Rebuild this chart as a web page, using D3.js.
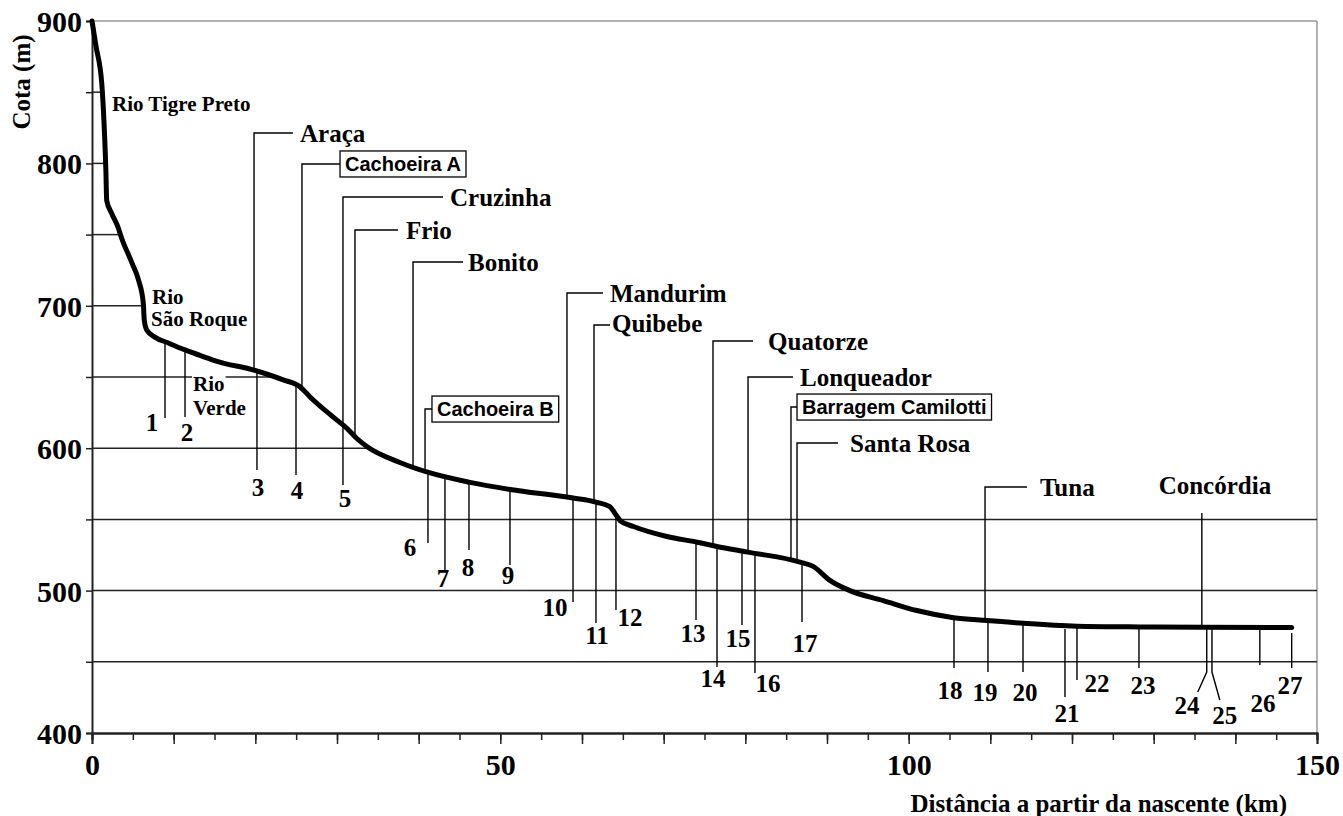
<!DOCTYPE html>
<html>
<head>
<meta charset="utf-8">
<script src="https://cdn.jsdelivr.net/npm/d3@7"></script>
<style>
  body { margin: 0; background: #fff; }
  text { font-family: "Liberation Serif", "Times New Roman", serif; font-weight: bold; fill: #000; }
  text.boxed { font-family: "Liberation Sans", Arial, sans-serif; }
</style>
</head>
<body>
<div id="chart"></div>
<script>
// river profile (distance km, elevation m)
const profileKm = [0, 0.5, 1.2, 1.5, 1.7, 1.8, 2.4, 3.2, 3.6, 4.9, 5.7, 6.28, 6.4, 6.7, 7.7, 9.3, 11.4, 13.8, 15.3,
  19.7, 23.4, 25.5, 26.7, 29.5, 31.2, 32.4, 33.7, 37.7, 41.2, 46.3, 51.2, 58.9, 61.8, 63.4, 64.3, 64.7, 66.3, 70.4,
  74.1, 76.5, 80.3, 86.7, 88.3, 90.4, 92.8, 96.9, 101, 105.5, 109.6, 114, 120.6, 128.3, 136, 146.9];
const profileCota = [900, 882, 856, 825, 795, 774, 765, 755, 748, 730, 718, 702, 690, 683, 678, 674, 669, 664, 661,
  655, 648, 643, 636, 622, 614, 607, 601, 590, 583, 576, 571, 565, 562, 559, 552, 549, 545, 538,
  534, 531, 527, 520, 517, 507, 500, 493, 486, 481, 479, 477, 475, 474.5, 474.3, 474];

// numbered points along the river
const numId = ["1", "2", "3", "4", "5", "6", "7", "8", "9", "10", "11", "12", "13", "14", "15", "16", "17", "18", "19",
  "20", "21", "22", "23", "24", "25", "26", "27"];
const numKm = [8.94, 11.39, 20.2, 24.98, 30.73, 41.14, 43.22, 46.16, 51.18, 58.9, 61.71, 64.16, 73.96, 76.53, 79.59,
  81.18, 86.94, 105.55, 109.71, 114.0, 119.14, 120.61, 128.2, 136.5, 137.14, 143.0, 146.9];
const numBottom = [621.2, 621.9, 584.7, 581.2, 574.2, 533.4, 513.1, 528.5, 517.9, 492.0, 477.2, 486.4, 479.4, 446.4,
  475.8, 442.1, 477.9, 445.6, 442.8, 442.8, 425.3, 437.2, 445.6, 442.8, 442.8, 447.8, 445.6];
const numLabelKm = [7.35, 11.63, 20.33, 25.1, 30.98, 38.94, 42.98, 46.04, 50.94, 56.69, 61.84, 65.88, 73.59, 76.04,
  79.1, 82.78, 87.3, 105.06, 109.35, 114.24, 119.39, 123.06, 128.69, 134.08, 138.7, 143.4, 146.7];
const numLabelCota = [618.4, 611.4, 572.8, 570.6, 565.0, 530.6, 508.4, 516.6, 510.9, 488.5, 468.8, 481.5, 470.2,
  438.6, 466.7, 435.1, 463.2, 430.2, 428.8, 428.8, 414.0, 435.1, 433.7, 419.7, 412.6, 421.1, 433.7];
// lines that start a little below the river
const gapId = ["21", "27"];
const gapTop = [473.0, 470.2];
// lines with a bent tail
const bendId = ["24", "25"];
const bendKm = [135.4, 138.1];
const bendCota = [428.8, 423.2];

// tributaries / places with leader lines
const tribName = ["Araça", "Cachoeira A", "Cruzinha", "Frio", "Bonito", "Cachoeira B", "Mandurim", "Quibebe",
  "Quatorze", "Lonqueador", "Barragem Camilotti", "Santa Rosa", "Tuna", "Concórdia"];
const tribKm = [19.84, 25.71, 30.73, 32.2, 39.31, 40.78, 58.16, 61.47, 76.04, 80.33, 85.59, 86.33, 109.35, 135.9];
const tribTop = [821.3, 799.6, 776.4, 753.2, 730.8, 627.5, 709.0, 686.5, 675.3, 650.0, 628.9, 603.7, 572.8, 554.5];
const tribArmKm = [24.61, 30.37, 42.98, 37.47, 45.43, 41.63, 62.57, 63.43, 80.94, 85.84, 86.33, 91.35, 114.49, 135.9];
const tribLabelKm = [25.47, 30.37, 43.84, 38.45, 46.04, 41.63, 63.43, 63.67, 82.78, 86.69, 86.33, 92.82, 116.08, 137.5];
const tribLabelCota = [821.3, 799.6, 776.4, 753.2, 730.8, 627.5, 709.0, 687.5, 675.3, 650.0, 628.9, 603.7, 572.8, 574.2];
const tribBoxed = [false, true, false, false, false, true, false, false, false, false, true, false, false, false];

// river names written next to the upper course
const rioText = ["Rio Tigre Preto", "Rio", "São Roque", "Rio", "Verde"];
const rioKm = [2.45, 7.35, 7.22, 12.37, 12.37];
const rioCota = [841.7, 706.2, 690.7, 645.1, 628.2];

// axes
const yTicks = [400, 450, 500, 550, 600, 650, 700, 750, 800, 850, 900];
const yLabels = [400, 500, 600, 700, 800, 900];
const xMinor = d3.range(0, 151, 5);
const xMajor = d3.range(0, 151, 10);
const xLabels = [0, 50, 100, 150];
const fullGrid = [450, 500, 550];
const partGrid = [600, 650, 700, 750, 800, 850];

const dimensions = {
  width: 1343,
  height: 816,
  margin: { top: 21, right: 26, bottom: 83, left: 92 },
};
dimensions.innerWidth = dimensions.width - dimensions.margin.left - dimensions.margin.right;
dimensions.innerHeight = dimensions.height - dimensions.margin.top - dimensions.margin.bottom;

const svg = d3.select("#chart")
  .append("svg")
  .attr("width", dimensions.width)
  .attr("height", dimensions.height);

const graph = svg.append("g")
  .attr("transform", `translate(${dimensions.margin.left},${dimensions.margin.top})`);

const xScale = d3.scaleLinear().domain([0, 150]).range([0, dimensions.innerWidth]);
const yScale = d3.scaleLinear().domain([400, 900]).range([dimensions.innerHeight, 0]);

// linear lookup on the profile
function cotaAt(km) {
  const i = d3.bisectLeft(profileKm, km);
  if (i <= 0) return profileCota[0];
  if (i >= profileKm.length) return profileCota[profileCota.length - 1];
  const t = (km - profileKm[i - 1]) / (profileKm[i] - profileKm[i - 1]);
  return profileCota[i - 1] + t * (profileCota[i] - profileCota[i - 1]);
}
function kmAt(cota) {
  for (let i = 1; i < profileCota.length; i++) {
    if (profileCota[i] <= cota) {
      const t = (profileCota[i - 1] - cota) / (profileCota[i - 1] - profileCota[i]);
      return profileKm[i - 1] + t * (profileKm[i] - profileKm[i - 1]);
    }
  }
  return 150;
}

// frame: grey top and right border
graph.append("line")
  .attr("x1", 0).attr("x2", xScale(150))
  .attr("y1", yScale(900)).attr("y2", yScale(900))
  .attr("stroke", "#999").attr("stroke-width", 1.5);
graph.append("line")
  .attr("x1", xScale(150)).attr("x2", xScale(150))
  .attr("y1", yScale(900)).attr("y2", yScale(400))
  .attr("stroke", "#999").attr("stroke-width", 1.5);

// gridlines
graph.selectAll(".grid-full")
  .data(fullGrid)
  .join("line")
  .attr("x1", 0).attr("x2", xScale(150))
  .attr("y1", (d) => yScale(d)).attr("y2", (d) => yScale(d))
  .attr("stroke", "#222").attr("stroke-width", 1.5);
graph.selectAll(".grid-part")
  .data(partGrid)
  .join("line")
  .attr("x1", 0).attr("x2", (d) => xScale(kmAt(d)))
  .attr("y1", (d) => yScale(d)).attr("y2", (d) => yScale(d))
  .attr("stroke", "#222").attr("stroke-width", 1.5);

// x axis: minor and major ticks
const xAxisMinor = graph.append("g")
  .attr("transform", `translate(0,${dimensions.innerHeight})`)
  .call(d3.axisBottom(xScale).tickValues(xMinor).tickSize(7).tickFormat(""));
const xAxis = graph.append("g")
  .attr("transform", `translate(0,${dimensions.innerHeight})`)
  .call(d3.axisBottom(xScale).tickValues(xMajor).tickSize(11).tickPadding(10)
    .tickFormat((d) => (xLabels.includes(d) ? d : "")));

const yAxis = graph.append("g")
  .call(d3.axisLeft(yScale).tickValues(yTicks).tickSize(6).tickPadding(4)
    .tickFormat((d) => (yLabels.includes(d) ? d : "")));

[xAxisMinor, xAxis, yAxis].forEach((ax) => {
  ax.select(".domain").attr("stroke", "#222").attr("stroke-width", 2);
  ax.selectAll(".tick line").attr("stroke", "#222").attr("stroke-width", 1.5);
  ax.selectAll(".tick text")
    .style("font-family", '"Liberation Serif", serif')
    .style("font-weight", "bold")
    .style("font-size", "30px")
    .attr("fill", "#000");
});
yAxis.selectAll(".tick text").attr("dy", "0.35em");

// axis titles
svg.append("text")
  .attr("transform", "translate(21,82) rotate(-90)")
  .attr("text-anchor", "middle")
  .attr("dy", "0.35em")
  .style("font-size", "25px")
  .text("Cota (m)");
svg.append("text")
  .attr("x", 1287).attr("y", 803)
  .attr("text-anchor", "end")
  .attr("dy", "0.35em")
  .style("font-size", "25px")
  .text("Distância a partir da nascente (km)");

// river-name labels (white background)
const rio = graph.append("g");
rioText.forEach((t, i) => {
  const label = rio.append("text")
    .attr("x", xScale(rioKm[i])).attr("y", yScale(rioCota[i]))
    .attr("dy", "0.35em")
    .style("font-size", "21px")
    .text(t);
  const b = label.node().getBBox();
  rio.insert("rect", "text")
    .attr("x", b.x - 1).attr("y", b.y + 2)
    .attr("width", b.width + 2).attr("height", b.height - 4)
    .attr("fill", "#fff");
});

// numbered point lines
const nums = graph.append("g");
numId.forEach((id, i) => {
  const g = nums.append("g");
  const gi = gapId.indexOf(id);
  const top = gi >= 0 ? gapTop[gi] : cotaAt(numKm[i]);
  const pts = [[numKm[i], top], [numKm[i], numBottom[i]]];
  const bi = bendId.indexOf(id);
  if (bi >= 0) pts.push([bendKm[bi], bendCota[bi]]);
  g.append("path")
    .attr("d", d3.line().x((d) => xScale(d[0])).y((d) => yScale(d[1]))(pts))
    .attr("fill", "none")
    .attr("stroke", "#000")
    .attr("stroke-width", 1.4);
  g.append("text")
    .attr("x", xScale(numLabelKm[i])).attr("y", yScale(numLabelCota[i]))
    .attr("text-anchor", "middle")
    .attr("dy", "0.35em")
    .style("font-size", "25px")
    .text(id);
});

// tributary leader lines and labels
const tribs = graph.append("g");
tribName.forEach((name, i) => {
  const g = tribs.append("g");
  const pts = [[tribKm[i], cotaAt(tribKm[i])], [tribKm[i], tribTop[i]], [tribArmKm[i], tribTop[i]]];
  g.append("path")
    .attr("d", d3.line().x((d) => xScale(d[0])).y((d) => yScale(d[1]))(pts))
    .attr("fill", "none")
    .attr("stroke", "#000")
    .attr("stroke-width", 1.4);
  const centred = tribArmKm[i] === tribKm[i];
  if (tribBoxed[i]) {
    const pad = 5;
    const label = g.append("text")
      .attr("class", "boxed")
      .attr("x", xScale(tribLabelKm[i]) + pad).attr("y", yScale(tribLabelCota[i]))
      .attr("dy", "0.35em")
      .style("font-size", "20px")
      .text(name);
    const b = label.node().getBBox();
    g.insert("rect", "text")
      .attr("x", xScale(tribLabelKm[i])).attr("y", yScale(tribLabelCota[i]) - 13)
      .attr("width", b.width + pad * 2).attr("height", 26)
      .attr("fill", "#fff")
      .attr("stroke", "#000")
      .attr("stroke-width", 1.3);
  } else {
    g.append("text")
      .attr("x", xScale(tribLabelKm[i])).attr("y", yScale(tribLabelCota[i]))
      .attr("text-anchor", centred ? "middle" : "start")
      .attr("dy", "0.35em")
      .style("font-size", "25px")
      .text(name);
  }
});

// river profile line
graph.append("path")
  .datum(profileKm.map((k, i) => [k, profileCota[i]]))
  .attr("d", d3.line().x((d) => xScale(d[0])).y((d) => yScale(d[1])).curve(d3.curveMonotoneX))
  .attr("fill", "none")
  .attr("stroke", "#000")
  .attr("stroke-width", 5)
  .attr("stroke-linecap", "round")
  .attr("stroke-linejoin", "round");
</script>
</body>
</html>
